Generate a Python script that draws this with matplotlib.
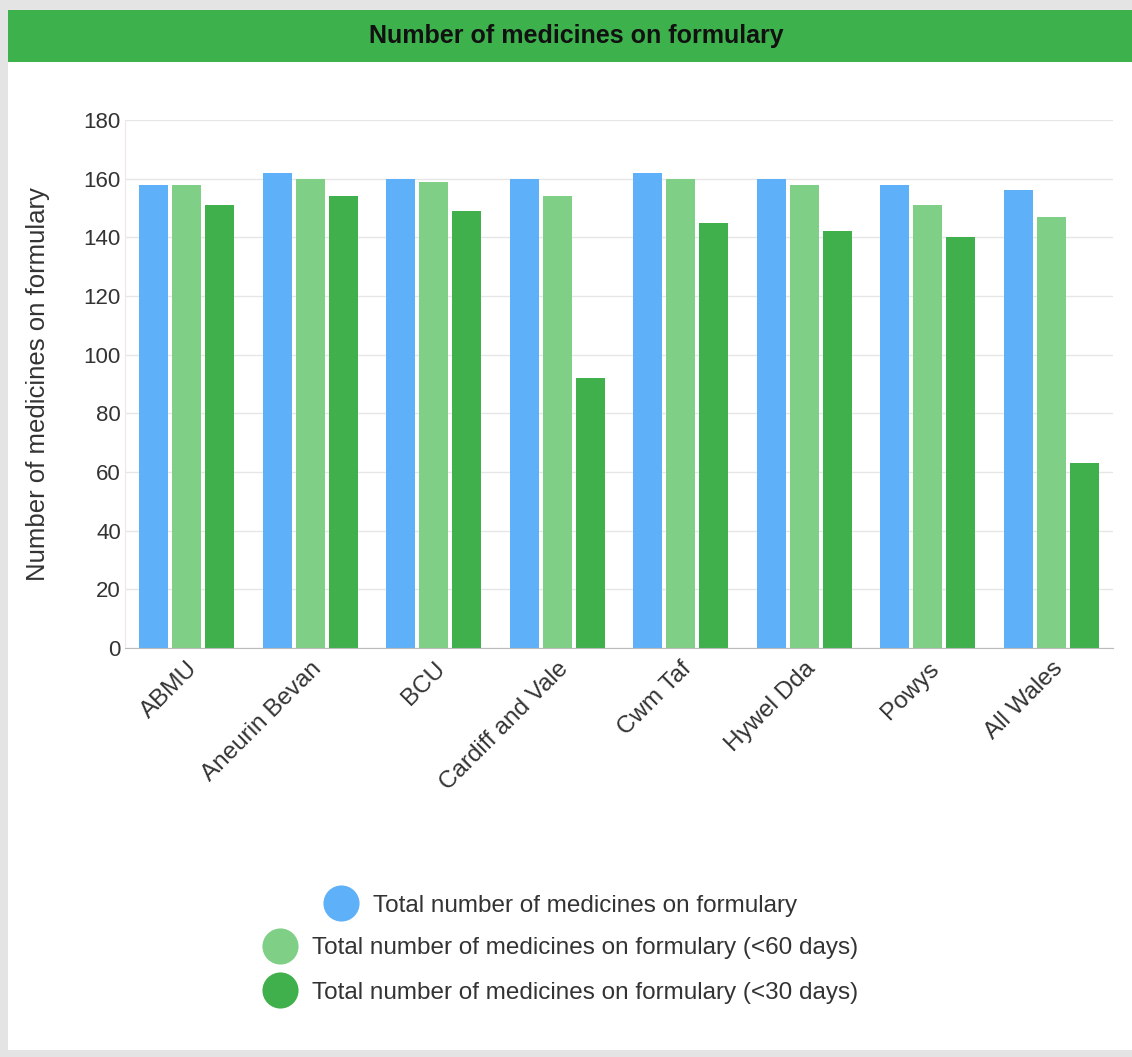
import matplotlib.pyplot as plt
import numpy as np
from matplotlib.patches import Rectangle
from matplotlib.lines import Line2D

plt.rcParams['font.family'] = ['Liberation Sans', 'DejaVu Sans']

boards = ['ABMU', 'Aneurin Bevan', 'BCU', 'Cardiff and Vale', 'Cwm Taf',
          'Hywel Dda', 'Powys', 'All Wales']
total = [158, 162, 160, 160, 162, 160, 158, 156]
under_60 = [158, 160, 159, 154, 160, 158, 151, 147]
under_30 = [151, 154, 149, 92, 145, 142, 140, 63]

series_names = ['Total number of medicines on formulary',
                'Total number of medicines on formulary (<60 days)',
                'Total number of medicines on formulary (<30 days)']
colors = ['#5eb0f8', '#7fcf86', '#3fb04b']

W, H = 1132, 1057
fig = plt.figure(figsize=(W / 100, H / 100), dpi=100, facecolor='#e4e4e4')

# card background and green header
fig.add_artist(Rectangle((8 / W, 1 - 1050 / H), 1, (1050 - 10) / H,
                         transform=fig.transFigure, facecolor='white',
                         edgecolor='none', zorder=0))
fig.add_artist(Rectangle((8 / W, 1 - 62 / H), 1, (62 - 10) / H,
                         transform=fig.transFigure, facecolor='#3db14b',
                         edgecolor='none', zorder=0))
fig.text(576 / W, 1 - 36 / H, 'Number of medicines on formulary',
         ha='center', va='center', fontsize=18, fontweight='bold', color='#111111')

ax = fig.add_axes([125 / W, 1 - 648 / H, (1113 - 125) / W, (648 - 120) / H])
ax.set_facecolor('white')

x = np.arange(len(boards))
bw = 0.235
step = 0.267
for i, (vals, c) in enumerate(zip([total, under_60, under_30], colors)):
    ax.bar(x + (i - 1) * step, vals, width=bw, color=c, zorder=2)

ax.set_xlim(-0.5, 7.5)
ax.set_ylim(0, 180)
ax.set_yticks(np.arange(0, 181, 20))
ax.grid(axis='y', color='#e6e6e6', linewidth=1, zorder=0)
ax.set_xticks(x)
ax.set_xticklabels(boards, rotation=45, ha='right', rotation_mode='anchor',
                   fontsize=17.5, color='#333333')
ax.tick_params(axis='y', labelsize=16, labelcolor='#333333', length=0, pad=3)
ax.tick_params(axis='x', length=0, pad=7)
for s in ['top', 'right']:
    ax.spines[s].set_visible(False)
ax.spines['left'].set_color('#f3e6e6')
ax.spines['bottom'].set_color('#bbbbbb')
ax.set_ylabel('Number of medicines on formulary', fontsize=18.5, color='#333333',
              labelpad=24)

# legend: one centered row per series
legend_y = [906, 948, 993]
for name, c, yy in zip(series_names, colors, legend_y):
    h = Line2D([], [], marker='o', linestyle='none', markersize=26,
               markerfacecolor=c, markeredgecolor='none')
    leg = fig.legend([h], [name], loc='center',
                     bbox_to_anchor=(563 / W, 1 - yy / H), frameon=False,
                     fontsize=17.5, handlelength=1.0, handletextpad=0.8,
                     labelcolor='#333333')

fig.savefig('out.png', dpi=100, facecolor=fig.get_facecolor())
